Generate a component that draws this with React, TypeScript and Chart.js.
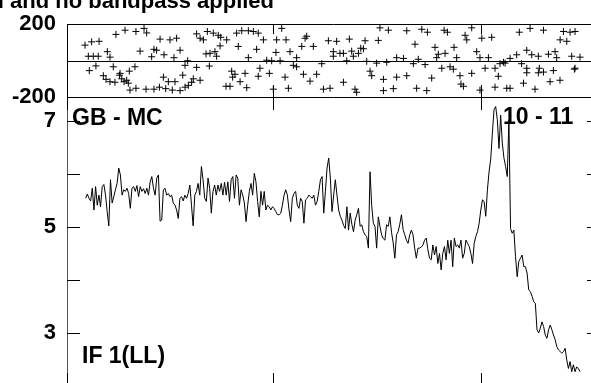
import React, { useEffect, useRef } from 'react';
import { Chart, registerables } from 'chart.js';

Chart.register(...registerables);

// ---- data ----
// amplitude spectrum, one value per sample (uniformly spaced)
const amplitude = [
  5.54, 5.62, 5.54, 5.49, 5.73, 5.32, 5.76, 5.41, 5.60, 5.38,
  5.76, 5.80, 5.60, 5.29, 5.02, 5.89, 5.45, 5.57, 5.70, 5.82,
  6.11, 5.98, 5.60, 5.70, 5.67, 5.73, 5.63, 5.35, 5.73, 5.76,
  5.67, 5.78, 5.57, 5.76, 5.67, 5.72, 5.63, 5.73, 5.60, 5.85,
  5.95, 5.73, 5.60, 5.92, 5.98, 5.11, 5.13, 5.70, 5.73, 5.60,
  5.63, 5.57, 5.60, 5.45, 5.41, 5.32, 5.16, 5.54, 5.57, 5.49,
  5.60, 5.54, 5.63, 5.79, 5.41, 5.02, 5.60, 5.67, 5.82, 5.60,
  6.14, 5.89, 5.54, 5.48, 5.92, 5.73, 5.26, 5.67, 5.79, 5.60,
  5.79, 5.67, 5.82, 5.60, 5.84, 5.60, 5.85, 5.48, 5.89, 5.95,
  5.54, 5.98, 5.92, 5.41, 5.70, 5.60, 5.45, 5.10, 5.41, 5.67,
  5.82, 5.60, 6.01, 5.85, 5.48, 5.19, 5.67, 5.41, 5.67, 5.32,
  5.41, 5.38, 5.32, 5.38, 5.35, 5.29, 5.23, 5.23, 5.26, 5.41,
  5.60, 5.70, 5.60, 5.32, 5.10, 5.54, 5.63, 5.67, 5.41, 5.35,
  5.54,
  5.48, 5.07, 5.51, 5.54, 5.60, 5.57, 5.54, 5.60, 5.41, 5.48,
  5.67, 5.89, 5.95, 5.26, 5.67, 6.11, 6.30, 5.92, 5.29, 5.60,
  5.89, 5.60, 5.32, 5.20, 5.13, 5.03, 4.97, 5.38, 4.94, 5.26,
  5.05, 4.91, 5.13, 5.23, 5.35, 5.01, 5.04, 4.91, 4.85, 4.82,
  4.60, 6.04, 5.40, 5.07, 5.01, 4.60, 5.19, 5.01, 4.85, 4.78,
  4.75, 5.04, 5.01, 5.19, 4.90, 4.70, 4.41, 4.85, 4.91, 5.05,
  5.23, 4.95, 4.85, 4.75, 4.69, 4.85, 4.94, 4.85, 4.60, 4.41,
  4.60, 4.60, 4.62, 4.66, 4.75,
  4.79, 4.57, 4.41, 4.38, 4.66, 4.47, 4.63, 4.31, 4.50, 4.19,
  4.50, 4.63, 4.38, 4.75, 4.50, 4.75, 4.25, 4.79, 4.63, 4.66,
  4.60, 4.75, 4.41, 4.50, 4.75, 4.69, 4.63, 4.50, 4.31, 4.69,
  4.82, 4.91, 5.07, 5.32, 5.51, 5.48, 5.20, 5.70, 6.04, 6.28,
  6.77, 7.21, 7.27, 7.02, 6.48, 7.11, 6.58, 6.30, 6.14, 5.95,
  7.02,
  4.97, 4.88, 4.94, 4.44, 4.06, 4.35, 4.41, 4.47, 4.25, 4.25,
  4.13, 3.81, 3.78, 3.69, 3.59, 3.56, 3.06, 3.00, 3.09, 3.21,
  3.12, 2.96, 2.90, 3.06, 3.15, 3.06, 2.96, 2.87, 2.74, 2.68,
  2.65, 2.62, 2.65, 2.71, 2.49, 2.33, 2.46, 2.27, 2.40, 2.27,
  2.36, 2.33, 2.27,
];

// phase scatter: sample position and phase in degrees
const phaseSample = [
  -0.4, 3.6, 8.1, 1.6, 4.6, 7.6, 13.1, 14.7, 2.2, 6.2,
  10.7, 12.3, 14.7, 17.7, 20.4, 21.8, 23.2, 24.8, 25.8, 16.7,
  20.8, 26.4, 29.8, 18.3, 23.8, 30.4, 35.3, 36.9, 26.8, 30.4,
  36.5, 41.3, 44.6, 48.4, 52.4, 57.1, 60.1, 62.1, 32.9, 39.9,
  41.3, 42.9, 47.4, 51.0, 55.0, 45.0, 57.1, 53.4, 47.0, 50.0,
  54.0, 58.7, 64.1, 65.1, 69.2, 60.1, 61.7, 67.1, 74.8, 67.1,
  69.2, 71.2, 73.6, 77.2, 80.2, 81.7, 85.3, 81.3, 78.2, 75.2,
  72.8, 79.2, 84.9, 87.3, 88.3, 90.3, 96.4, 97.4, 88.9, 93.4,
  91.3, 94.4, 98.4, 101.4, 104.4, 107.5, 115.5, 121.2, 103.4, 92.3,
  115.1, 123.6, 98.4, 109.5, 112.5, 117.6, 125.6, 127.6, 105.4, 111.1,
  104.4, 120.6, 113.5, 122.6, 118.6,
  178.0, 183.1, 194.2, 203.3, 206.7, 216.8, 218.8, 233.5, 229.5, 230.5,
  133.7, 132.7, 130.7, 137.7, 146.8, 151.8, 159.5, 169.0, 177.0, 149.8,
  153.8, 155.9, 160.9, 149.8, 161.9, 166.4, 168.0, 165.0,
  127.6, 142.8, 157.9, 170.0, 176.0, 182.1, 188.1, 192.2, 198.2, 201.2, 205.3, 199.2,
  131.7, 139.7, 135.7, 143.8, 147.8, 155.9, 162.9, 163.9, 172.0, 173.0,
  180.1, 188.1, 194.2, 209.3, 180.1, 186.1, 200.2, 206.3,
  211.3, 213.3, 222.8, 217.4, 212.3, 224.4,
  215.4, 220.4, 222.4, 226.4, 233.5, 227.0, 228.5,
  239.6, 245.6, 236.5, 238.5, 243.6, 250.6, 252.7, 256.7, 260.7, 266.8,
  269.8, 273.8, 279.9, 283.9, 284.9,
  241.6, 247.6, 249.6, 253.7, 263.7, 266.8, 273.8, 274.4, 266.8, 276.9, 282.9, 295.6,
  238.5, 247.6, 254.7, 256.7, 264.8, 271.8, 280.9, 286.9,
  262.3, 268.8, 276.9, 289.0, 293.0, 296.0, 287.0, 291.0,
  294.0, 299.0, 296.0,
];
const phaseDegrees = [
  85, 103, 106, 24, 24, 24, 49, 19, -55, -29,
  -83, -103, -116, -119, -80, -100, -116, -108, -124, -34,
  -70, -58, -34, 144, 167, 160, 177, 152, -162, -152,
  -157, -157, -146, -154, -162, -165, -146, -136, 52, 21,
  62, 57, 32, 114, 123, 118, 57, 16, -91, -116,
  -116, -80, -119, -100, -108, -26, -1, -37, -30, 147,
  123, 114, 160, 151, 139, 128, 114, 81, 49, 40,
  37, 24, -141, -141, -58, -75, -70, -149, -91, -116,
  151, 164, 164, 160, 151, 114, 114, 114, 62, 78,
  45, 49, 16, 2, -1, -1, -26, -34, -42, -70,
  -86, -91, -157, -152, 177,
  180, 167, 164, 172, 156, 167, 156, 180, 139, 114,
  134, 123, 78, 78, 109, 106, 118, 109, 111, 49,
  40, 40, 52, 24, 24, 68, 65, 40,
  16, -17, -1, -4, -14, -9, 16, 12, -17, 7, -22, 90,
  -75, -75, -113, -157, -152, -119, -157, -174, -58, -83,
  -103, -91, -83, -96, -165, -154, -152, -165,
  73, 35, 73, 40, 16, 16,
  -42, -34, -47, -83, -70, -129, -141,
  123, 128, 49, 16, 16, -17, -9, 12, 32, 57,
  32, 24, 35, 49, 16,
  -42, -42, -86, -14, -17, -42, -67, -42, -67, -63, -55, -47,
  -162, -146, -152, -152, -124, -157, -116, -108,
  156, 177, 167, 160, 156, 160, 114, 106,
  24, 19, -42,
];

const sampleRange = [-11.3, 311.1];
const sampleTicks = [-11.3, 113.3, 239.2];
const phaseRange = [-200, 200];
const phaseTicks = [-200, 200];
const ampRange = [2.0, 7.45];
const ampTicks = [3, 4, 5, 6, 7];
const ampLabelled = [3, 5, 7];

const titleHidden = 'd ';
const titleText = 'and no bandpass applied';
const baselineLabel = 'GB - MC';
const timeLabel = '10 - 11';
const ifLabel = 'IF 1(LL)';

// ---- layout ----
const FONT_FAMILY = '"Liberation Sans", Arial, Helvetica, sans-serif';
const CANVAS_W = 620;
const TOP_H = 130;
const BOT_H = 420;
const AREA_LEFT = 67;
const AREA_RIGHT = 600;
const TOP_TOP = 16;
const TOP_BOTTOM = 97;
const BOT_BOTTOM = 386;

const px = (v: number) => Math.round(v) + 0.5;

const topFrame = {
  id: 'topFrame',
  afterDraw(chart: any) {
    const { ctx, chartArea } = chart;
    const { left, right, top, bottom } = chartArea;
    const xs = chart.scales.x;
    const ys = chart.scales.y;
    ctx.save();
    ctx.strokeStyle = '#000';
    ctx.lineWidth = 1;
    ctx.beginPath();
    ctx.moveTo(left, px(top));
    ctx.lineTo(right, px(top));
    ctx.moveTo(left, px(bottom));
    ctx.lineTo(right, px(bottom));
    const y0 = px(ys.getPixelForValue(0));
    ctx.moveTo(left, y0);
    ctx.lineTo(right, y0);
    ctx.moveTo(px(left), top);
    ctx.lineTo(px(left), bottom);
    ctx.moveTo(px(right), top);
    ctx.lineTo(px(right), bottom);
    sampleTicks.forEach((s) => {
      const x = px(xs.getPixelForValue(s));
      ctx.moveTo(x, top);
      ctx.lineTo(x, top + 10);
      ctx.moveTo(x, bottom);
      ctx.lineTo(x, bottom - 12);
    });
    ctx.stroke();

    ctx.fillStyle = '#000';
    ctx.font = `bold 22px ${FONT_FAMILY}`;
    ctx.textAlign = 'left';
    ctx.textBaseline = 'alphabetic';
    const lead = ctx.measureText(titleHidden).width;
    ctx.fillText(titleHidden + titleText, 10 - lead, 8);
    ctx.restore();
  },
};

const bottomFrame = {
  id: 'bottomFrame',
  afterDraw(chart: any) {
    const { ctx, chartArea } = chart;
    const { left, right, top, bottom } = chartArea;
    const xs = chart.scales.x;
    const ys = chart.scales.y;
    ctx.save();
    ctx.lineWidth = 1;
    ctx.strokeStyle = '#555';
    ctx.beginPath();
    ctx.moveTo(px(left), top);
    ctx.lineTo(px(left), bottom);
    ctx.moveTo(px(right), top);
    ctx.lineTo(px(right), bottom);
    ctx.moveTo(left, px(bottom));
    ctx.lineTo(right, px(bottom));
    ctx.stroke();

    ctx.strokeStyle = '#000';
    ctx.beginPath();
    ampTicks.forEach((v) => {
      const y = px(ys.getPixelForValue(v));
      ctx.moveTo(left, y);
      ctx.lineTo(left + 13, y);
      ctx.moveTo(right, y);
      ctx.lineTo(right - 13, y);
    });
    sampleTicks.forEach((s) => {
      const x = px(xs.getPixelForValue(s));
      ctx.moveTo(x, top);
      ctx.lineTo(x, top + 13);
      ctx.moveTo(x, bottom);
      ctx.lineTo(x, bottom - 13);
    });
    ctx.stroke();

    ctx.fillStyle = '#000';
    ctx.font = `bold 23px ${FONT_FAMILY}`;
    ctx.textAlign = 'left';
    ctx.textBaseline = 'alphabetic';
    ctx.fillText(baselineLabel, left + 5, top + 28);
    ctx.fillText(ifLabel, left + 15, 363);
    ctx.fillText(timeLabel, 503, top + 27);
    ctx.restore();
  },
};

const tickFont = { family: FONT_FAMILY, size: 22, weight: 'bold' as const };

export default function App() {
  const topRef = useRef<HTMLCanvasElement | null>(null);
  const botRef = useRef<HTMLCanvasElement | null>(null);

  useEffect(() => {
    if (!topRef.current || !botRef.current) return;

    const phaseChart = new Chart(topRef.current, {
      type: 'scatter',
      data: {
        datasets: [
          {
            data: phaseSample.map((s, i) => ({ x: s, y: phaseDegrees[i] })),
            pointStyle: 'cross',
            pointRadius: 3.5,
            pointBorderWidth: 1,
            pointBorderColor: '#000',
            pointBackgroundColor: '#000',
            showLine: false,
          } as any,
        ],
      },
      options: {
        responsive: false,
        animation: false,
        events: [],
        layout: { padding: { left: 0, top: TOP_TOP, right: CANVAS_W - AREA_RIGHT, bottom: TOP_H - TOP_BOTTOM } },
        plugins: { legend: { display: false }, tooltip: { enabled: false }, title: { display: false } },
        scales: {
          x: { type: 'linear', display: false, min: sampleRange[0], max: sampleRange[1] },
          y: {
            type: 'linear',
            min: phaseRange[0],
            max: phaseRange[1],
            afterBuildTicks: (scale: any) => {
              scale.ticks = phaseTicks.map((v) => ({ value: v }));
            },
            afterFit: (scale: any) => {
              scale.width = AREA_LEFT;
            },
            grid: { display: false, drawTicks: false },
            border: { display: false },
            ticks: { font: tickFont, color: '#000', padding: 11, autoSkip: false },
          },
        },
      } as any,
      plugins: [topFrame],
    });

    const ampChart = new Chart(botRef.current, {
      type: 'line',
      data: {
        datasets: [
          {
            data: amplitude.map((v, i) => ({ x: i, y: v })),
            borderColor: '#000',
            borderWidth: 1,
            pointRadius: 0,
            tension: 0,
            fill: false,
          },
        ],
      },
      options: {
        responsive: false,
        animation: false,
        events: [],
        layout: { padding: { left: 0, top: TOP_BOTTOM, right: CANVAS_W - AREA_RIGHT, bottom: BOT_H - BOT_BOTTOM } },
        plugins: { legend: { display: false }, tooltip: { enabled: false }, title: { display: false } },
        scales: {
          x: { type: 'linear', display: false, min: sampleRange[0], max: sampleRange[1] },
          y: {
            type: 'linear',
            min: ampRange[0],
            max: ampRange[1],
            afterBuildTicks: (scale: any) => {
              scale.ticks = ampTicks.map((v) => ({ value: v }));
            },
            afterFit: (scale: any) => {
              scale.width = AREA_LEFT;
            },
            grid: { display: false, drawTicks: false },
            border: { display: false },
            ticks: {
              font: tickFont,
              color: '#000',
              padding: 11,
              autoSkip: false,
              callback: (v: any) => (ampLabelled.includes(Number(v)) ? String(v) : ''),
            },
          },
        },
      } as any,
      plugins: [bottomFrame],
    });

    return () => {
      phaseChart.destroy();
      ampChart.destroy();
    };
  }, []);

  return (
    <div
      style={{
        position: 'fixed',
        left: 0,
        top: 0,
        width: 591,
        height: 383,
        overflow: 'hidden',
        background: '#fff',
      }}
    >
      <canvas
        ref={botRef}
        width={CANVAS_W}
        height={BOT_H}
        style={{ position: 'absolute', left: 0, top: 0, width: CANVAS_W, height: BOT_H }}
      />
      <canvas
        ref={topRef}
        width={CANVAS_W}
        height={TOP_H}
        style={{ position: 'absolute', left: 0, top: 0, width: CANVAS_W, height: TOP_H }}
      />
    </div>
  );
}
